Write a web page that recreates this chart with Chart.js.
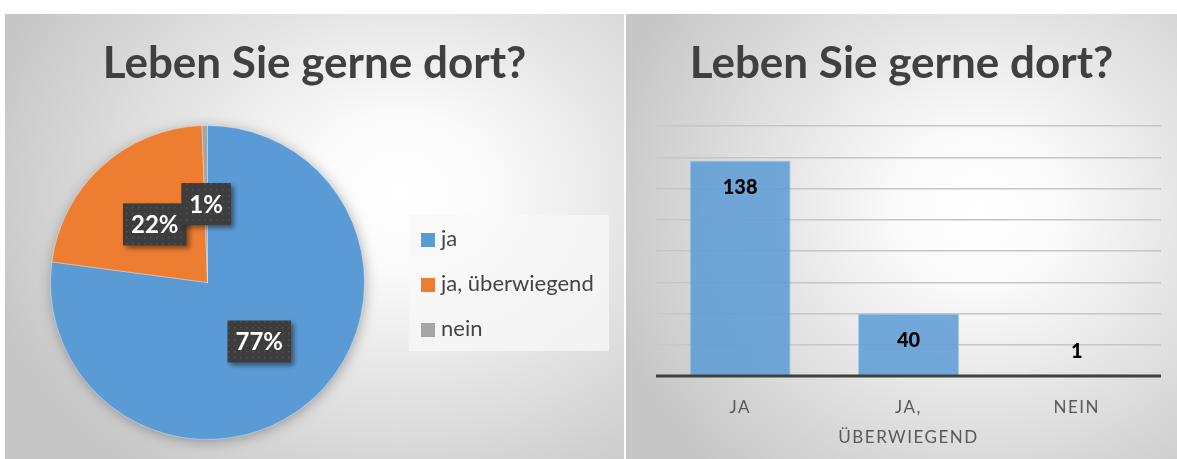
<!DOCTYPE html>
<html>
<head>
<meta charset="utf-8">
<script src="https://cdn.jsdelivr.net/npm/chart.js@4"></script>
<style>
  html, body { margin:0; padding:0; background:#fff; }
  body { width:1177px; height:459px; position:relative; overflow:hidden; font-family:Lato, 'Open Sans', sans-serif; }
  .panel { position:absolute; top:14px; height:445px; }
  #left  { left:5px; width:619px;
           background:radial-gradient(ellipse 70% 80% at 64% 40%, #ffffff 0%, #fafafa 22%, #c6c6c6 100%); }
  #right { left:626px; width:551px;
           background:radial-gradient(ellipse 70% 80% at 64% 44%, #ffffff 0%, #fafafa 22%, #c6c6c6 100%); }
  .title { position:absolute; left:0; right:0; top:21px; text-align:center; font-weight:700;
           font-size:44px; line-height:1.2; color:#404040; white-space:nowrap; }
  canvas { position:absolute; left:0; top:0; }
  #legend { position:absolute; left:404px; top:201px; width:200px; height:136px;
            background:rgba(248,248,248,.75); }
  .item { position:absolute; left:12px; height:24px; line-height:24px; font-size:22px; color:#454545; white-space:nowrap; }
  .item i { display:inline-block; width:14px; height:14px; margin-right:6px; vertical-align:-1px; }
</style>
</head>
<body>
<div class="panel" id="left">
  <canvas id="pie" width="619" height="445"></canvas>
  <div class="title">Leben Sie gerne dort?</div>
  <div id="legend"></div>
</div>
<div class="panel" id="right">
  <canvas id="bar" width="551" height="445"></canvas>
  <div class="title">Leben Sie gerne dort?</div>
</div>
<script>
'use strict';
// data
const answers   = ['ja', 'ja, überwiegend', 'nein'];
const barTicks  = [['JA'], ['JA,', 'ÜBERWIEGEND'], ['NEIN']];
const counts    = [138, 40, 1];
const colors    = ['#5b9bd5', '#ed7d31', '#a5a5a5'];
const yMax = 160, yStep = 20;

const total = counts.reduce((a, b) => a + b, 0);

// legend
document.getElementById('legend').innerHTML = answers.map((a, i) =>
  `<div class="item" style="top:${11 + i * 45}px"><i style="background:${colors[i]}"></i>${a}</div>`).join('');

// dotted texture for the percent boxes
function dotPattern(ctx) {
  const c = document.createElement('canvas'); c.width = 6; c.height = 6;
  const g = c.getContext('2d');
  g.fillStyle = '#3d3d3d'; g.fillRect(0, 0, 6, 6);
  g.fillStyle = '#525252'; g.fillRect(1, 1, 1.5, 1.5);
  return ctx.createPattern(c, 'repeat');
}

const pieDeco = {
  id: 'pieDeco',
  beforeDatasetsDraw(chart) {
    const arc = chart.getDatasetMeta(0).data[0];
    if (!arc) return;
    const ctx = chart.ctx;
    ctx.save();
    ctx.shadowColor = 'rgba(0,0,0,.35)'; ctx.shadowBlur = 14; ctx.shadowOffsetX = 1; ctx.shadowOffsetY = 2;
    ctx.fillStyle = '#888';
    ctx.beginPath(); ctx.arc(arc.x, arc.y, arc.outerRadius - 1, 0, Math.PI * 2); ctx.fill();
    ctx.restore();
  },
  afterDatasetsDraw(chart) {
    const ctx = chart.ctx;
    const pat = dotPattern(ctx);
    chart.getDatasetMeta(0).data.forEach((arc, i) => {
      const p = arc.getCenterPoint();
      const txt = Math.round(counts[i] / total * 100) + '%';
      ctx.save();
      ctx.font = 'bold 24px Lato';
      const w = ctx.measureText(txt).width + 16, h = 42;
      ctx.shadowColor = 'rgba(0,0,0,.45)'; ctx.shadowBlur = 5; ctx.shadowOffsetX = 3; ctx.shadowOffsetY = 3;
      ctx.fillStyle = pat;
      ctx.fillRect(p.x - w / 2, p.y - h / 2, w, h);
      ctx.shadowColor = 'transparent';
      ctx.fillStyle = '#fff'; ctx.textAlign = 'center'; ctx.textBaseline = 'middle';
      ctx.fillText(txt, p.x, p.y + 1);
      ctx.restore();
    });
  }
};

new Chart(document.getElementById('pie'), {
  type: 'pie',
  data: { labels: answers,
    datasets: [{ data: counts, backgroundColor: colors, borderColor: 'rgba(255,255,255,.35)', borderWidth: 1, clip: false }] },
  options: {
    responsive: false, animation: false,
    layout: { padding: { left: 45, top: 111, right: 259, bottom: 19 } },
    plugins: { legend: { display: false }, tooltip: { enabled: false } },
  },
  plugins: [pieDeco],
});

const barDeco = {
  id: 'barDeco',
  beforeDraw(chart) { chart.ctx.letterSpacing = '1.5px'; },
  beforeDatasetsDraw(chart) { chart.ctx.letterSpacing = '0px'; },
  afterDatasetsDraw(chart) {
    const ctx = chart.ctx, a = chart.chartArea;
    ctx.save();
    ctx.strokeStyle = '#404040'; ctx.lineWidth = 3;
    ctx.beginPath(); ctx.moveTo(a.left, a.bottom); ctx.lineTo(a.right, a.bottom); ctx.stroke();
    ctx.font = '900 20px Lato'; ctx.fillStyle = '#000';
    ctx.textAlign = 'center'; ctx.textBaseline = 'middle';
    chart.getDatasetMeta(0).data.forEach((bar, i) => {
      const y = Math.min(bar.y + 27, bar.base - 24);
      ctx.fillText(String(counts[i]), bar.x, y);
    });
    ctx.restore();
  }
};

new Chart(document.getElementById('bar'), {
  type: 'bar',
  data: { labels: barTicks,
    datasets: [{ data: counts, backgroundColor: 'rgba(91,155,213,.85)', borderColor: 'rgba(160,200,235,.9)',
      borderWidth: 1, barPercentage: 0.6, categoryPercentage: 1 }] },
  options: {
    responsive: false, animation: false,
    layout: { padding: { left: 30, top: 112, right: 16, bottom: 0 } },
    plugins: { legend: { display: false }, tooltip: { enabled: false } },
    scales: {
      x: {
        grid: { display: false, drawTicks: false }, border: { display: false },
        ticks: { color: '#595959', font: { family: 'Lato', size: 17, lineHeight: 1.75 }, padding: 17, maxRotation: 0, autoSkip: false },
        afterFit(s) { s.height = 83; },
      },
      y: {
        min: 0, max: yMax,
        ticks: { display: false, stepSize: yStep },
        grid: { color: '#c6c6c6', lineWidth: 1.5, drawTicks: false },
        border: { display: false },
        afterFit(s) { s.width = 0; },
      },
    },
  },
  plugins: [barDeco],
});
</script>
</body>
</html>
